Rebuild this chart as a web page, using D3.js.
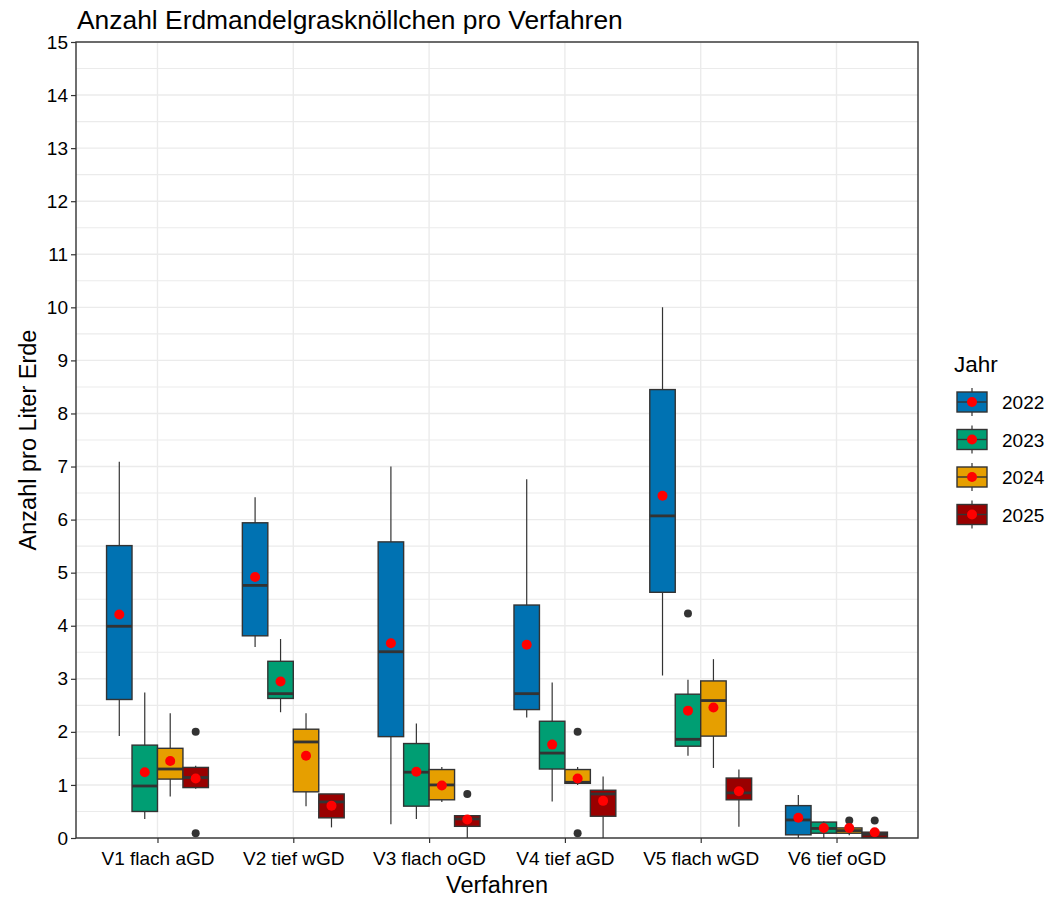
<!DOCTYPE html>
<html>
<head>
<meta charset="utf-8">
<script src="https://cdn.jsdelivr.net/npm/d3@7"></script>
<style>
  body { margin: 0; background: #fff; }
  svg { font-family: "Liberation Sans", Arial, sans-serif; }
</style>
</head>
<body>
<div id="chart"></div>
<script>
'use strict'

var verfahren = ['V1 flach aGD', 'V2 tief wGD', 'V3 flach oGD', 'V4 tief aGD', 'V5 flach wGD', 'V6 tief oGD'];
var jahre = ['2022', '2023', '2024', '2025'];
var farben = ['#0072B2', '#009E73', '#E69F00', '#990000'];
var yTicks = [0, 1, 2, 3, 4, 5, 6, 7, 8, 9, 10, 11, 12, 13, 14, 15];

// [untere Whisker, Q1, Median, Q3, obere Whisker] pro Verfahren
var box2022 = [[1.92, 2.61, 3.99, 5.51, 7.09], [3.60, 3.81, 4.76, 5.94, 6.42], [0.26, 1.91, 3.51, 5.58, 7.00],
               [2.27, 2.42, 2.72, 4.39, 6.76], [3.06, 4.63, 6.07, 8.45, 10.0], [0.00, 0.06, 0.34, 0.61, 0.81]];
var box2023 = [[0.36, 0.50, 0.98, 1.75, 2.74], [2.37, 2.63, 2.72, 3.33, 3.75], [0.36, 0.60, 1.24, 1.78, 2.16],
               [0.69, 1.30, 1.60, 2.20, 2.93], [1.55, 1.73, 1.86, 2.71, 2.98], [0.00, 0.09, 0.18, 0.30, 0.31]];
var box2024 = [[0.78, 1.11, 1.30, 1.69, 2.35], [0.60, 0.87, 1.81, 2.05, 2.35], [0.68, 0.72, 1.00, 1.29, 1.34],
               [1.00, 1.03, 1.05, 1.29, 1.34], [1.32, 1.92, 2.59, 2.96, 3.37], [0.05, 0.09, 0.14, 0.19, 0.19]];
var box2025 = [[0.93, 0.95, 1.14, 1.33, 1.36], [0.20, 0.38, 0.68, 0.83, 0.83], [0.00, 0.22, 0.36, 0.42, 0.42],
               [0.00, 0.41, 0.83, 0.90, 1.16], [0.21, 0.72, 0.85, 1.13, 1.29], [0.00, 0.01, 0.07, 0.11, 0.11]];

var mittel2022 = [4.21, 4.92, 3.67, 3.64, 6.45, 0.38];
var mittel2023 = [1.24, 2.95, 1.25, 1.76, 2.40, 0.19];
var mittel2024 = [1.45, 1.55, 0.99, 1.12, 2.46, 0.19];
var mittel2025 = [1.12, 0.61, 0.35, 0.70, 0.88, 0.11];

// Ausreisser: [Verfahren-Index, Jahr, Wert]
var ausreisser = [[0, '2025', 2.0], [0, '2025', 0.09], [2, '2025', 0.83], [3, '2024', 2.0], [3, '2024', 0.09],
                  [4, '2023', 4.23], [5, '2024', 0.33], [5, '2025', 0.33]];

var boxen = [box2022, box2023, box2024, box2025];
var mittel = [mittel2022, mittel2023, mittel2024, mittel2025];

var width = 1045, height = 897;
var panel = { left: 76, right: 918, top: 42, bottom: 838 };

var svg = d3.select('#chart').append('svg')
  .attr('width', width)
  .attr('height', height);

var x = d3.scalePoint()
  .domain(verfahren)
  .range([panel.left, panel.right])
  .padding(0.6);

var dodge = d3.scaleBand()
  .domain(jahre)
  .range([-0.375 * x.step(), 0.375 * x.step()]);

var y = d3.scaleLinear()
  .domain([0, 15])
  .range([panel.bottom, panel.top]);

var rows = [];
jahre.forEach(function(j, ji) {
  verfahren.forEach(function(v, vi) {
    var b = boxen[ji][vi];
    rows.push({ v: v, j: j, farbe: farben[ji], lo: b[0], q1: b[1], med: b[2], q3: b[3], hi: b[4], mean: mittel[ji][vi] });
  });
});

// Gitter
var grid = svg.append('g');
d3.range(0.5, 15, 1).forEach(function(t) {
  grid.append('line')
    .attr('x1', panel.left).attr('x2', panel.right)
    .attr('y1', y(t)).attr('y2', y(t))
    .attr('stroke', '#ebebeb').attr('stroke-width', 1.1);
});
yTicks.forEach(function(t) {
  grid.append('line')
    .attr('x1', panel.left).attr('x2', panel.right)
    .attr('y1', y(t)).attr('y2', y(t))
    .attr('stroke', '#ebebeb').attr('stroke-width', 1.4);
});
verfahren.forEach(function(v) {
  grid.append('line')
    .attr('x1', x(v)).attr('x2', x(v))
    .attr('y1', panel.top).attr('y2', panel.bottom)
    .attr('stroke', '#ebebeb').attr('stroke-width', 1.4);
});

var bw = dodge.bandwidth();
var g = svg.append('g');

function cx(d) { return x(d.v) + dodge(d.j) + bw / 2; }

// Whisker
g.selectAll('line.whisker').data(rows).enter().append('line')
  .attr('x1', cx).attr('x2', cx)
  .attr('y1', function(d) { return y(d.lo); })
  .attr('y2', function(d) { return y(d.hi); })
  .attr('stroke', '#333333').attr('stroke-width', 1.2);

// Boxen
g.selectAll('rect.box').data(rows).enter().append('rect')
  .attr('x', function(d) { return x(d.v) + dodge(d.j); })
  .attr('width', bw)
  .attr('y', function(d) { return y(d.q3); })
  .attr('height', function(d) { return y(d.q1) - y(d.q3); })
  .attr('fill', function(d) { return d.farbe; })
  .attr('stroke', '#333333').attr('stroke-width', 1.4);

// Median
g.selectAll('line.median').data(rows).enter().append('line')
  .attr('x1', function(d) { return x(d.v) + dodge(d.j); })
  .attr('x2', function(d) { return x(d.v) + dodge(d.j) + bw; })
  .attr('y1', function(d) { return y(d.med); })
  .attr('y2', function(d) { return y(d.med); })
  .attr('stroke', '#333333').attr('stroke-width', 2.8);

// Ausreisser
g.selectAll('circle.out').data(ausreisser).enter().append('circle')
  .attr('cx', function(d) { return x(verfahren[d[0]]) + dodge(d[1]) + bw / 2; })
  .attr('cy', function(d) { return y(d[2]); })
  .attr('r', 4)
  .attr('fill', '#333333');

// Mittelwerte
g.selectAll('circle.mean').data(rows).enter().append('circle')
  .attr('cx', cx)
  .attr('cy', function(d) { return y(d.mean); })
  .attr('r', 5)
  .attr('fill', 'red');

// Rahmen
svg.append('rect')
  .attr('x', panel.left).attr('y', panel.top)
  .attr('width', panel.right - panel.left).attr('height', panel.bottom - panel.top)
  .attr('fill', 'none').attr('stroke', '#333333').attr('stroke-width', 1.4);

// Achsen
var yAxis = svg.append('g')
  .attr('transform', 'translate(' + panel.left + ',0)')
  .call(d3.axisLeft(y).tickValues(yTicks).tickSize(5).tickPadding(3));
var xAxis = svg.append('g')
  .attr('transform', 'translate(0,' + panel.bottom + ')')
  .call(d3.axisBottom(x).tickSize(5).tickPadding(9));
[yAxis, xAxis].forEach(function(a) {
  a.select('.domain').remove();
  a.selectAll('.tick line').attr('stroke', '#333333').attr('stroke-width', 1.2);
  a.selectAll('.tick text').attr('fill', '#000').style('font-size', '19px').style('font-family', '"Liberation Sans", Arial, sans-serif');
});

// Titel
svg.append('text')
  .attr('x', panel.left + 1).attr('y', 29)
  .style('font-size', '26.4px')
  .text('Anzahl Erdmandelgrasknöllchen pro Verfahren');

svg.append('text')
  .attr('x', (panel.left + panel.right) / 2).attr('y', 893)
  .attr('text-anchor', 'middle')
  .style('font-size', '23.5px')
  .text('Verfahren');

svg.append('text')
  .attr('transform', 'translate(36,' + (panel.top + panel.bottom) / 2 + ') rotate(-90)')
  .attr('text-anchor', 'middle')
  .style('font-size', '23.5px')
  .text('Anzahl pro Liter Erde');

// Legende
var legend = svg.append('g');
legend.append('text')
  .attr('x', 954).attr('y', 372)
  .style('font-size', '22.5px')
  .text('Jahr');

var keys = legend.selectAll('g.key').data(jahre).enter().append('g')
  .attr('transform', function(d, i) { return 'translate(972,' + (402 + i * 37.5) + ')'; });
keys.append('line')
  .attr('y1', -14).attr('y2', 14)
  .attr('stroke', '#333333').attr('stroke-width', 1.2);
keys.append('rect')
  .attr('x', -15).attr('y', -10).attr('width', 30).attr('height', 20)
  .attr('fill', function(d, i) { return farben[i]; })
  .attr('stroke', '#333333').attr('stroke-width', 1.4);
keys.append('line')
  .attr('x1', -15).attr('x2', 15)
  .attr('stroke', '#333333').attr('stroke-width', 1.4);
keys.append('circle')
  .attr('r', 5).attr('fill', 'red');
keys.append('text')
  .attr('x', 30).attr('y', 7)
  .style('font-size', '19px')
  .text(function(d) { return d; });
</script>
</body>
</html>
